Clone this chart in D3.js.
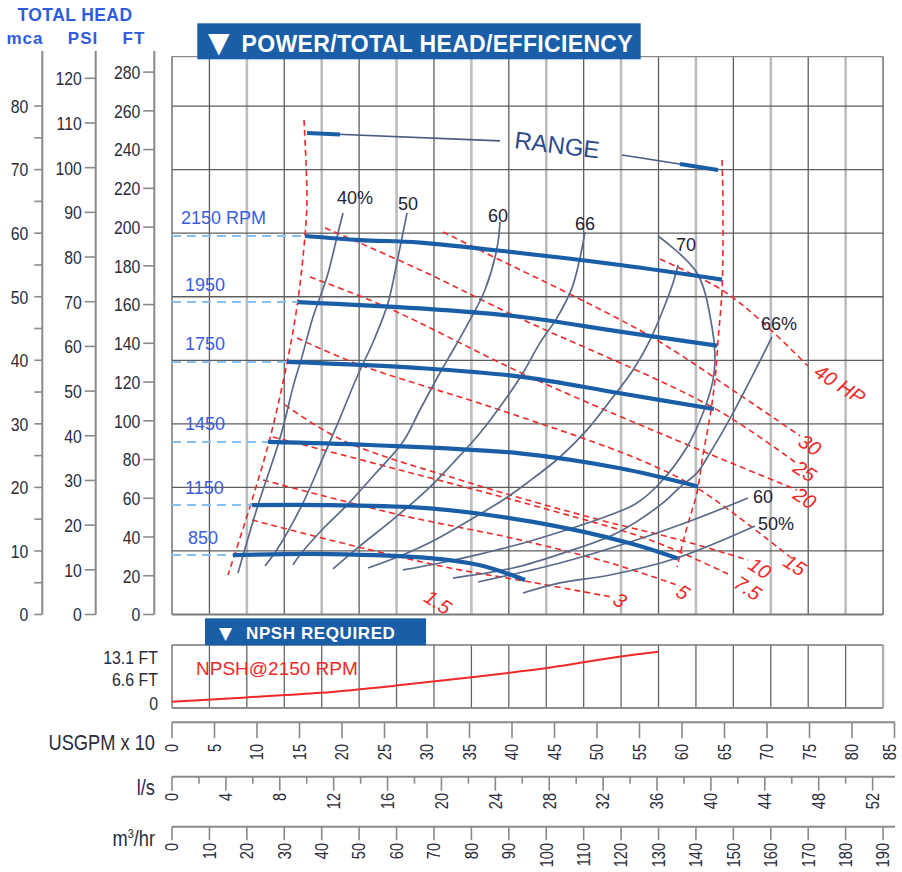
<!DOCTYPE html>
<html><head><meta charset="utf-8">
<script src="https://cdn.jsdelivr.net/npm/d3@7/dist/d3.min.js"></script>
<style>
body{margin:0;background:#fff;}
svg{display:block;font-family:"Liberation Sans",Arial,sans-serif;}
</style></head><body>
<svg id="c" width="902" height="872"></svg>
<script>
// ---------------- DATA (x = USGPM/10, y = total head ft) ----------------
const rpmNames = ["2150 RPM","1950","1750","1450","1150","850"];
const head2150 = [[15.65,195.4],[22.12,193.3],[29.18,192.0],[40.94,186.6],[52.71,180.4],[64.71,172.9]];
const head1950 = [[14.82,161.3],[29.18,158.0],[40.94,153.7],[52.71,146.0],[64.12,138.8]];
const head1750 = [[13.53,130.4],[29.18,127.2],[40.94,122.8],[52.71,114.2],[63.76,106.1]];
const head1450 = [[11.29,89.1],[23.29,87.5],[40.94,83.2],[52.71,75.5],[61.88,66.1]];
const head1150 = [[9.41,56.5],[18.59,56.5],[30.35,54.8],[42.47,47.8],[53.88,36.8],[59.53,28.9]];
const head850  = [[7.18,30.7],[18.59,31.2],[30.35,29.1],[36.24,25.4],[41.53,17.8]];

const eff40L = [[20.12,207.3],[19.41,194.9],[18.24,174.3],[16.59,153.6],[15.29,133.0],[14.24,117.5],[13.29,100.5],[12.47,87.6],[10.12,56.5],[7.76,21.4]];
const eff50L = [[27.65,207.3],[26.59,184.5],[25.41,160.8],[23.76,141.7],[21.76,122.6],[19.76,101.4],[17.65,79.8],[15.29,56.5],[12.47,34.3],[10.94,25.0]];
const eff60L = [[38.59,202.6],[38.24,189.2],[36.82,167.5],[35.06,152.1],[33.29,138.2],[31.53,124.8],[29.18,105.7],[27.18,89.2],[23.88,72.5],[20.59,56.5],[17.41,42.6],[15.06,30.8],[14.24,25.6]];
const eff66L = [[48.59,197.5],[48.0,184.1],[47.06,168.6],[45.29,153.1],[43.29,140.2],[41.29,124.7],[39.41,112.3],[36.24,93.7],[33.06,78.2],[30.0,64.3],[25.65,47.8],[22.12,35.4],[18.94,23.5]];
const eff70L = [[59.53,180.4],[58.94,171.1],[57.76,157.2],[56.24,141.7],[54.24,126.2],[51.88,112.3],[48.82,95.3],[45.65,81.3],[41.76,67.9],[38.94,59.1],[35.06,48.8],[30.94,38.5],[26.82,30.2],[23.06,24.0]];
const eff70R = [[57.18,195.4],[61.76,176.3],[63.53,148.4],[63.88,132.9],[63.65,121.1],[62.47,104.0],[60.59,86.5],[57.41,67.9],[54.5,57.0],[51.53,51.4],[46.0,43.1],[40.94,36.4],[36.24,31.2],[31.53,26.6],[27.18,23.0]];
const eff66R = [[70.59,143.3],[68.82,127.8],[66.0,104.0],[63.29,83.4],[61.76,73.1],[59.76,65.8],[57.76,57.6],[52.35,42.1],[46.0,31.7],[40.12,24.0],[33.06,18.8]];
const eff60R = [[67.76,60.1],[61.29,48.8],[53.53,36.9],[45.65,26.6],[36.0,16.8]];
const eff50R = [[68.59,45.7],[59.41,29.2],[51.53,20.4],[45.65,16.3],[41.29,11.1]];
const effLabels = ["40%","50","60","66","70","66%","60","50%"];
const effLabelQ = [21.53,27.76,38.35,48.59,60.47,71.41,69.53,71.06];
const effLabelH = [215.0,212.4,206.2,201.6,190.8,150.4,60.7,47.2];

const hp40 = [[57.41,183.5],[64.71,167.5],[69.18,152.0],[74.82,128.3]];
const hp30 = [[31.88,197.5],[35.65,189.3],[56.0,144.3],[66.82,113.3],[73.88,92.2]];
const hp25 = [[18.0,199.6],[29.18,177.9],[40.35,154.1],[63.76,106.6],[73.29,78.7]];
const hp20 = [[16.24,174.2],[24.94,159.2],[42.12,122.6],[62.12,84.9],[73.53,64.3]];
const hp15 = [[14.71,142.7],[22.12,128.8],[38.59,105.6],[55.06,79.8],[62.12,64.3],[72.71,29.7]];
const hp10 = [[13.29,108.2],[20.0,90.1],[35.06,67.9],[50.35,48.8],[59.76,38.5],[67.76,28.1]];
const hp7_5 = [[11.88,91.6],[26.82,74.6],[44.47,53.9],[56.24,38.5],[65.65,20.4]];
const hp5 = [[10.71,69.4],[26.82,51.4],[40.94,38.5],[51.53,26.6],[59.76,14.7]];
const hp3 = [[9.41,48.8],[20.94,35.9],[32.71,24.0],[42.12,16.8],[51.76,9.0]];
const hpLabels = ["40 HP","30","25","20","15","10","7.5","5","3","1.5"];
const hpLabelQ = [78.59,75.06,74.47,74.47,73.29,69.18,67.76,60.12,52.71,31.29];
const hpLabelH = [118.9,87.6,74.1,60.2,25.6,24.0,13.7,11.6,7.5,6.5];

const rangeLeft  = [[15.53,255.3],[15.88,214.0],[15.65,195.9],[14.82,162.4],[13.53,129.8],[11.53,91.1],[9.53,60.7],[6.59,20.4]];
const rangeRight = [[64.71,234.6],[64.82,214.0],[64.71,167.5],[64.24,141.7],[63.88,121.1],[63.29,102.0],[62.47,82.4],[61.76,62.7],[60.59,45.2],[59.41,24.5]];
const rangeLeader = [[15.88,248.6],[38.59,244.5]];
const rangeLeaderBold = [[15.88,248.6],[19.76,247.8]];
const rangeLeader2 = [[52.94,237.2],[64.24,229.5]];
const rangeLeader2Bold = [[59.76,232.6],[64.24,229.5]];

const npshCurve = [[0,0.35],[8.8,1.6],[17.5,2.9],[26.9,5.1],[35.8,7.5],[44.5,10.1],[52.6,13.2],[57.2,14.6]];
const npshTicks = [0,6.6,13.1];
const npshTickLabels = ["0","6.6 FT","13.1 FT"];

const ftTicks = d3.range(0,281,20);
const psiTicks = d3.range(0,121,10);
const mcaTicks = d3.range(0,81,5);
const gpmTicks = d3.range(0,86,5);
const lsTicks = d3.range(0,53,2);
const m3Ticks = d3.range(0,191,10);

// ---------------- SCALES ----------------
const FT_PER_M = 3.28084, FT_PER_PSI = 2.30666, Q_PER_M3H = 0.440287, Q_PER_LS = 1.585032;
const x = d3.scaleLinear().domain([0,85]).range([172,894.5]);
const y = d3.scaleLinear().domain([0,280]).range([614.5,72.1]);
const xM3 = d3.scaleLinear().domain([0,190]).range([x(0), x(190*Q_PER_M3H)]);
const xLs = d3.scaleLinear().domain([0,52]).range([x(0), x(52*Q_PER_LS)]);
const yM = d3.scaleLinear().domain([0,80]).range([y(0), y(80*FT_PER_M)]);
const yPsi = d3.scaleLinear().domain([0,120]).range([y(0), y(120*FT_PER_PSI)]);
const yN = d3.scaleLinear().domain([0,13.1]).range([703,657]);

const svg = d3.select("#c");
const plotL = xM3(0), plotR = xM3(190), plotT = y(288), plotB = y(0);
const BLUE = "#1a5ea8", RED = "#f02828", SLATE = "#5a6a88", GRIDD = "#5e5e5e", GRIDL = "#bdbdbd";
const NARROW = 0.83;

// ---------------- GRID ----------------
const g = svg.append("g");
g.selectAll("line.v").data(m3Ticks.filter(d=>d>0)).join("line")
  .attr("x1",d=>xM3(d)).attr("x2",d=>xM3(d)).attr("y1",plotT).attr("y2",plotB)
  .attr("stroke",d=>d%20===0?GRIDL:GRIDD).attr("stroke-width",d=>d%20===0?2.6:1.3);
g.selectAll("line.h").data(d3.range(10,81,10)).join("line")
  .attr("x1",plotL).attr("x2",plotR).attr("y1",d=>yM(d)).attr("y2",d=>yM(d))
  .attr("stroke",GRIDD).attr("stroke-width",1.3);
g.append("line").attr("x1",plotL).attr("x2",plotR).attr("y1",plotT).attr("y2",plotT).attr("stroke","#8a8a8a").attr("stroke-width",1.3);
g.append("line").attr("x1",plotL).attr("x2",plotL).attr("y1",plotT).attr("y2",plotB).attr("stroke",GRIDD).attr("stroke-width",1.3);
g.append("line").attr("x1",plotL).attr("x2",plotR).attr("y1",plotB).attr("y2",plotB).attr("stroke","#7a7a7a").attr("stroke-width",2.2);

// ---------------- LEFT AXES ----------------
function vAxis(scale, ticks, ax, tlen, labelFilter, top) {
  const a = svg.append("g");
  a.append("line").attr("x1",ax).attr("x2",ax).attr("y1",top).attr("y2",scale(0))
    .attr("stroke","#8a8a8a").attr("stroke-width",2);
  a.selectAll("line.t").data(ticks).join("line")
    .attr("x1",ax-tlen).attr("x2",ax).attr("y1",d=>scale(d)).attr("y2",d=>scale(d))
    .attr("stroke","#8a8a8a").attr("stroke-width",1.6);
  a.selectAll("text").data(ticks.filter(labelFilter)).join("text")
    .attr("transform",d=>`translate(${ax-14},${scale(d)}) scale(${NARROW},1)`).attr("dy","0.36em")
    .attr("text-anchor","end").attr("font-size",19).attr("fill","#2b2b3a").text(d=>d);
}
vAxis(yM, mcaTicks, 42.3, 8, d=>d%10===0, 51);
vAxis(yPsi, psiTicks, 95.7, 11, d=>true, 51);
vAxis(y, ftTicks, 154.3, 11, d=>true, 51);

svg.append("text").attr("x",75).attr("y",20.5).attr("text-anchor","middle")
  .attr("font-weight","bold").attr("font-size",17.5).attr("letter-spacing",0.4).attr("fill","#2f5be0").text("TOTAL HEAD");
[["mca",25],["PSI",83],["FT",134]].forEach(([t,cx])=>{
  svg.append("text").attr("x",cx).attr("y",43.5).attr("text-anchor","middle")
   .attr("font-weight","bold").attr("font-size",17).attr("letter-spacing",1).attr("fill","#2f5be0").text(t);
});

// ---------------- TITLE ----------------
svg.append("rect").attr("x",197.3).attr("y",23.3).attr("width",443.4).attr("height",36).attr("fill",BLUE);
const tt = svg.append("text").attr("y",51.5).attr("fill","#fff").attr("font-weight","bold");
tt.append("tspan").attr("x",208).attr("font-family","DejaVu Sans").attr("font-size",28).text("▼");
tt.append("tspan").attr("x",241.5).attr("font-size",23).attr("letter-spacing",0.35).text("POWER/TOTAL HEAD/EFFICIENCY");

// ---------------- CURVES ----------------
const line = d3.line().x(d=>x(d[0])).y(d=>y(d[1])).curve(d3.curveCatmullRom.alpha(0.5));
const plot = svg.append("g");

[rangeLeft, rangeRight].forEach(r=>{
  plot.append("path").attr("d",line(r)).attr("fill","none").attr("stroke",RED)
    .attr("stroke-width",1.6).attr("stroke-dasharray","6,4");
});
[hp40,hp30,hp25,hp20,hp15,hp10,hp7_5,hp5,hp3].forEach(h=>{
  plot.append("path").attr("d",line(h)).attr("fill","none").attr("stroke",RED)
    .attr("stroke-width",1.6).attr("stroke-dasharray","6,4");
});
[eff40L,eff50L,eff60L,eff66L,eff70L,eff70R,eff66R,eff60R,eff50R].forEach(e=>{
  plot.append("path").attr("d",line(e)).attr("fill","none").attr("stroke",SLATE).attr("stroke-width",1.7);
});
const heads = [head2150,head1950,head1750,head1450,head1150,head850];
heads.forEach((h,i)=>{
  plot.append("line").attr("x1",x(0)).attr("x2",x(h[0][0])).attr("y1",y(h[0][1])).attr("y2",y(h[0][1]))
    .attr("stroke","#86c1f2").attr("stroke-width",2).attr("stroke-dasharray","9,6");
  plot.append("path").attr("d",line(h)).attr("fill","none").attr("stroke",BLUE)
    .attr("stroke-width",4.2).attr("stroke-linecap","butt");
  plot.append("text").attr("x",x(0)+(i===0?9:(i===5?16:13))).attr("y",y(h[0][1])-18).attr("dy","0.36em")
    .attr("font-size",18).attr("fill","#3a5ce0").text(rpmNames[i]);
});
plot.append("path").attr("d",line(rangeLeader)).attr("stroke","#4a5a80").attr("stroke-width",1.6).attr("fill","none");
plot.append("path").attr("d",line(rangeLeader2)).attr("stroke","#4a5a80").attr("stroke-width",1.6).attr("fill","none");
plot.append("path").attr("d",line(rangeLeaderBold)).attr("stroke",BLUE).attr("stroke-width",4).attr("fill","none");
plot.append("path").attr("d",line(rangeLeader2Bold)).attr("stroke",BLUE).attr("stroke-width",4).attr("fill","none");
plot.append("text").attr("transform",`translate(${x(45.3)},${y(242.5)}) rotate(7)`).attr("text-anchor","middle")
  .attr("dy","0.36em").attr("font-size",24).attr("fill","#2c4a8c").text("RANGE");

effLabels.forEach((t,i)=>{
  plot.append("text").attr("x",x(effLabelQ[i])).attr("y",y(effLabelH[i])).attr("dy","0.36em")
    .attr("text-anchor","middle").attr("font-size",18).attr("fill","#1e2233").text(t);
});
hpLabels.forEach((t,i)=>{
  plot.append("text").attr("transform",`translate(${x(hpLabelQ[i])},${y(hpLabelH[i])}) rotate(33)`)
    .attr("text-anchor","middle").attr("dy","0.36em").attr("font-size",20).attr("font-style","italic")
    .attr("fill",RED).text(t);
});

// ---------------- NPSH PANEL ----------------
const nTop = 645, nBot = 708;
const np = svg.append("g");
np.selectAll("line.v").data(m3Ticks).join("line")
  .attr("x1",d=>xM3(d)).attr("x2",d=>xM3(d)).attr("y1",nTop).attr("y2",nBot)
  .attr("stroke",d=>d===190?"#b0b0b0":"#666").attr("stroke-width",d=>d===190?2.4:1.3);
np.append("line").attr("x1",plotL).attr("x2",plotR).attr("y1",nTop).attr("y2",nTop).attr("stroke","#777").attr("stroke-width",1.3);
np.append("line").attr("x1",plotL).attr("x2",plotR).attr("y1",nBot).attr("y2",nBot).attr("stroke","#8a8a8a").attr("stroke-width",2.2);
np.append("rect").attr("x",205).attr("y",618.3).attr("width",221).attr("height",27).attr("fill",BLUE);
const nt = np.append("text").attr("y",639).attr("fill","#fff").attr("font-weight","bold");
nt.append("tspan").attr("x",219).attr("font-family","DejaVu Sans").attr("font-size",17).text("▼");
nt.append("tspan").attr("x",246).attr("font-size",17).attr("letter-spacing",0.6).text("NPSH REQUIRED");
np.selectAll("text.nt").data(npshTicks).join("text")
  .attr("transform",d=>`translate(158,${yN(d)}) scale(0.86,1)`).attr("dy","0.36em").attr("text-anchor","end")
  .attr("font-size",18.5).attr("fill","#2b2b3a").text((d,i)=>npshTickLabels[i]);
np.append("path").attr("d",d3.line().x(d=>x(d[0])).y(d=>yN(d[1])).curve(d3.curveMonotoneX)(npshCurve))
  .attr("fill","none").attr("stroke",RED).attr("stroke-width",2);
np.append("text").attr("x",196).attr("y",668).attr("dy","0.36em").attr("font-size",19).attr("fill",RED).text("NPSH@2150 RPM");

// ---------------- BOTTOM AXES ----------------
function hAxis(scale, ticks, ay, tlen, minorFn, labelY, unitLabel, unitBase) {
  const a = svg.append("g");
  a.append("line").attr("x1",x(0)).attr("x2",895).attr("y1",ay).attr("y2",ay).attr("stroke","#8a8a8a").attr("stroke-width",2);
  a.selectAll("line.t").data(ticks).join("line")
    .attr("x1",d=>scale(d)).attr("x2",d=>scale(d)).attr("y1",ay).attr("y2",d=>ay+(minorFn(d)?tlen*0.5:tlen))
    .attr("stroke","#8a8a8a").attr("stroke-width",1.6);
  a.selectAll("text.l").data(ticks.filter(d=>!minorFn(d))).join("text")
    .attr("transform",d=>`translate(${Math.min(scale(d),890)},${labelY}) rotate(-90) scale(${NARROW},1)`)
    .attr("text-anchor","end").attr("dy","0.36em").attr("font-size",17.5).attr("fill","#2b2b3a").text(d=>d);
  const u = a.append("text").attr("transform",`translate(155,${unitBase}) scale(${NARROW},1)`).attr("text-anchor","end")
    .attr("font-size",22).attr("fill","#2b2b3a");
  unitLabel(u);
}
hAxis(x, gpmTicks, 722.3, 16, d=>false, 744, u=>u.text("USGPM x 10"), 750);
hAxis(xLs, lsTicks, 776.7, 14, d=>d%4!==0, 793, u=>u.text("l/s"), 795);
hAxis(xM3, m3Ticks, 826.7, 13.5, d=>false, 843, u=>{u.append("tspan").text("m");u.append("tspan").attr("font-size",13).attr("dy","-8").text("3");u.append("tspan").attr("dy","8").text("/hr");}, 846);
</script>
</body></html>
